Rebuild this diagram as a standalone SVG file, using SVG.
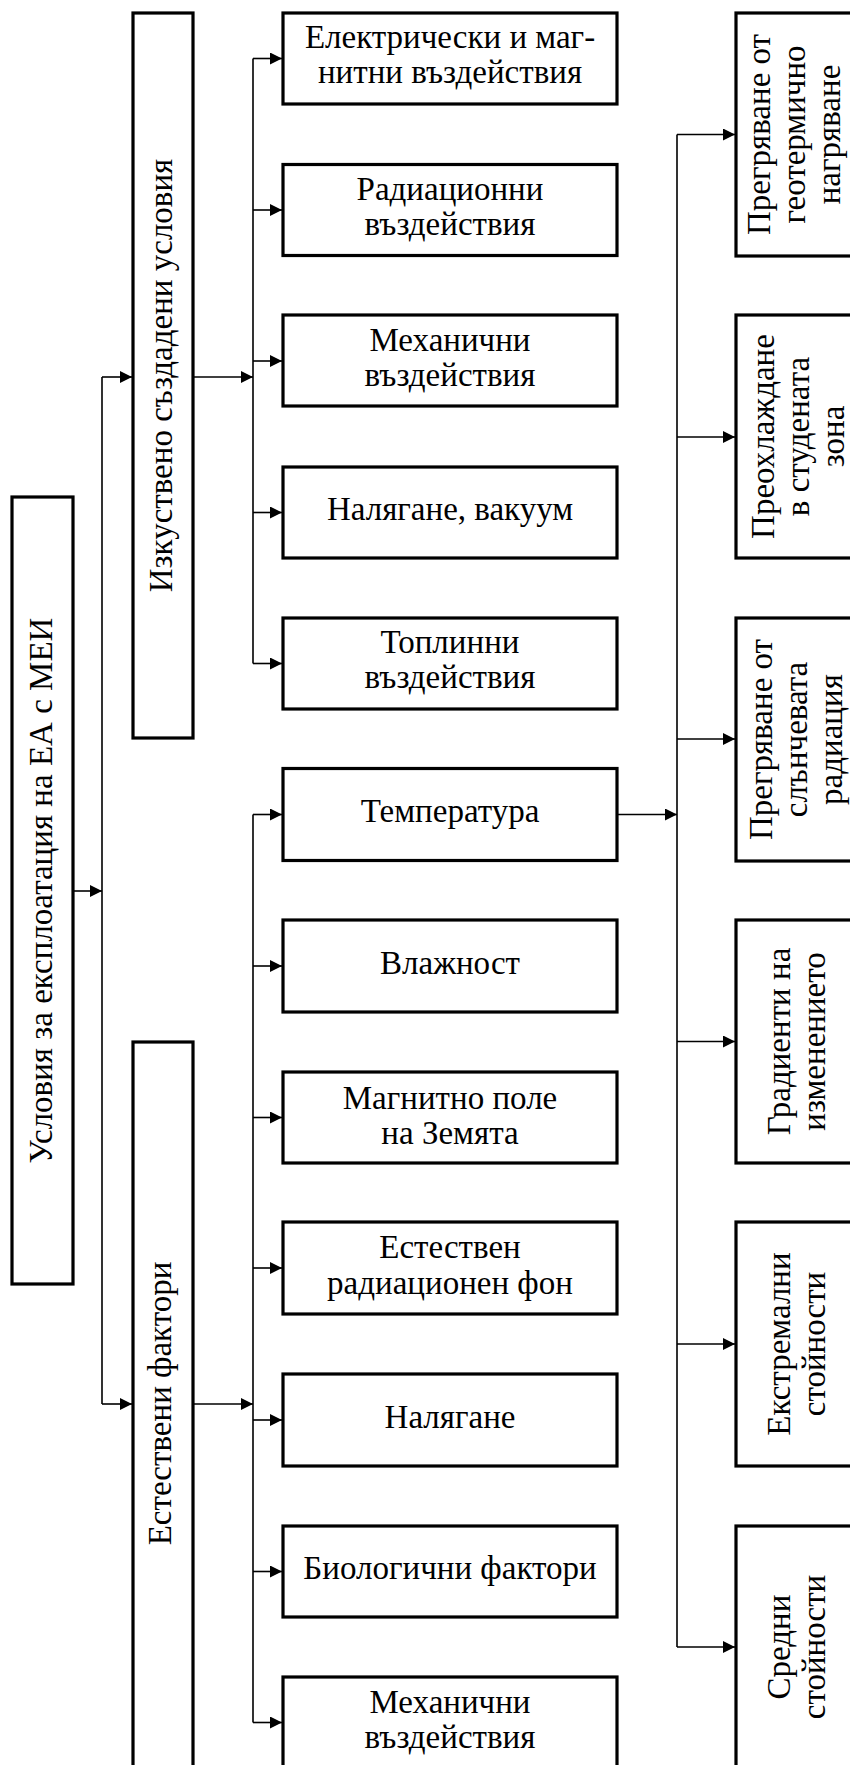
<svg xmlns="http://www.w3.org/2000/svg" width="850" height="1765" viewBox="0 0 850 1765" font-family="Liberation Serif, DejaVu Serif, serif">
<style>
.b{fill:#fff;stroke:#000;stroke-width:3.2}
.t{font-size:33px;fill:#000;text-anchor:middle}
.c{fill:none;stroke:#000;stroke-width:1.6}
</style>
<defs>
<marker id="ar" markerUnits="userSpaceOnUse" markerWidth="13" markerHeight="12" refX="12" refY="6" orient="auto">
<path d="M0,0 L12,6 L0,12 z" fill="#000"/>
</marker>
</defs>
<rect width="850" height="1765" fill="#fff"/>
<g id="connectors">
<path class="c" d="M102,377 V1404 M253,58.5 V663.5 M253,814.5 V1722.5 M677,134.5 V1647"/>
<path class="c" marker-end="url(#ar)" d="M102,377 H132"/>
<path class="c" marker-end="url(#ar)" d="M102,1404 H132"/>
<path class="c" marker-end="url(#ar)" d="M74,891 H102"/>
<path class="c" marker-end="url(#ar)" d="M194,377 H253"/>
<path class="c" marker-end="url(#ar)" d="M194,1404 H253"/>
<path class="c" marker-end="url(#ar)" d="M618,814.5 H677"/>
<path class="c" marker-end="url(#ar)" d="M253,58.5 H282"/>
<path class="c" marker-end="url(#ar)" d="M253,210 H282"/>
<path class="c" marker-end="url(#ar)" d="M253,361 H282"/>
<path class="c" marker-end="url(#ar)" d="M253,512.5 H282"/>
<path class="c" marker-end="url(#ar)" d="M253,663.5 H282"/>
<path class="c" marker-end="url(#ar)" d="M253,814.5 H282"/>
<path class="c" marker-end="url(#ar)" d="M253,966 H282"/>
<path class="c" marker-end="url(#ar)" d="M253,1117.5 H282"/>
<path class="c" marker-end="url(#ar)" d="M253,1268 H282"/>
<path class="c" marker-end="url(#ar)" d="M253,1420 H282"/>
<path class="c" marker-end="url(#ar)" d="M253,1571.5 H282"/>
<path class="c" marker-end="url(#ar)" d="M253,1722.5 H282"/>
<path class="c" marker-end="url(#ar)" d="M677,134.5 H735"/>
<path class="c" marker-end="url(#ar)" d="M677,437 H735"/>
<path class="c" marker-end="url(#ar)" d="M677,739 H735"/>
<path class="c" marker-end="url(#ar)" d="M677,1041.5 H735"/>
<path class="c" marker-end="url(#ar)" d="M677,1344 H735"/>
<path class="c" marker-end="url(#ar)" d="M677,1647 H735"/>
</g>
<g id="main">
<rect class="b" x="12" y="497" width="61" height="787"/>
<text class="t" transform="translate(42.5,890.5) rotate(-90)" y="9.5">Условия за експлоатация на ЕА с МЕИ</text>
</g>
<g id="artificial">
<rect class="b" x="133" y="13" width="60" height="725"/>
<text class="t" transform="translate(163,375.5) rotate(-90)" y="9">Изкуствено създадени условия</text>
</g>
<g id="natural">
<rect class="b" x="133" y="1042" width="60" height="730"/>
<text class="t" transform="translate(163,1403.5) rotate(-90)" y="8">Естествени фактори</text>
</g>
<g id="a1">
<rect class="b" x="283" y="13" width="334" height="91"/>
<text class="t" x="450" y="48">Електрически и маг-</text>
<text class="t" x="450" y="83">нитни въздействия</text>
</g>
<g id="a2">
<rect class="b" x="283" y="164.5" width="334" height="91"/>
<text class="t" x="450" y="200">Радиационни</text>
<text class="t" x="450" y="235">въздействия</text>
</g>
<g id="a3">
<rect class="b" x="283" y="315" width="334" height="91"/>
<text class="t" x="450" y="351">Механични</text>
<text class="t" x="450" y="386">въздействия</text>
</g>
<g id="a4">
<rect class="b" x="283" y="467" width="334" height="91"/>
<text class="t" x="450" y="520">Налягане, вакуум</text>
</g>
<g id="a5">
<rect class="b" x="283" y="618" width="334" height="91"/>
<text class="t" x="450" y="653">Топлинни</text>
<text class="t" x="450" y="688">въздействия</text>
</g>
<g id="n1">
<rect class="b" x="283" y="768.5" width="334" height="92"/>
<text class="t" x="450" y="822">Температура</text>
</g>
<g id="n2">
<rect class="b" x="283" y="920" width="334" height="92"/>
<text class="t" x="450" y="973.5">Влажност</text>
</g>
<g id="n3">
<rect class="b" x="283" y="1072" width="334" height="91"/>
<text class="t" x="450" y="1109">Магнитно поле</text>
<text class="t" x="450" y="1144">на Земята</text>
</g>
<g id="n4">
<rect class="b" x="283" y="1222" width="334" height="92"/>
<text class="t" x="450" y="1258">Естествен</text>
<text class="t" x="450" y="1294">радиационен фон</text>
</g>
<g id="n5">
<rect class="b" x="283" y="1374" width="334" height="92"/>
<text class="t" x="450" y="1427.5">Налягане</text>
</g>
<g id="n6">
<rect class="b" x="283" y="1526" width="334" height="91"/>
<text class="t" x="450" y="1579">Биологични фактори</text>
</g>
<g id="n7">
<rect class="b" x="283" y="1677" width="334" height="95"/>
<text class="t" x="450" y="1713">Механични</text>
<text class="t" x="450" y="1748">въздействия</text>
</g>
<g id="r1">
<rect class="b" x="736" y="13" width="126" height="243"/>
<text class="t" transform="translate(798,134.5) rotate(-90)"><tspan x="0" y="-28">Прегряване от</tspan><tspan x="0" y="7">геотермично</tspan><tspan x="0" y="42">нагряване</tspan></text>
</g>
<g id="r2">
<rect class="b" x="736" y="315" width="126" height="243"/>
<text class="t" transform="translate(798,436.5) rotate(-90)"><tspan x="0" y="-24">Преохлаждане</tspan><tspan x="0" y="11">в студената</tspan><tspan x="0" y="46">зона</tspan></text>
</g>
<g id="r3">
<rect class="b" x="736" y="618" width="126" height="243"/>
<text class="t" transform="translate(798,739.5) rotate(-90)"><tspan x="0" y="-26">Прегряване от</tspan><tspan x="0" y="9">слънчевата</tspan><tspan x="0" y="44">радиация</tspan></text>
</g>
<g id="r4">
<rect class="b" x="736" y="920" width="126" height="243"/>
<text class="t" transform="translate(798,1041.5) rotate(-90)"><tspan x="0" y="-8">Градиенти на</tspan><tspan x="0" y="27">изменението</tspan></text>
</g>
<g id="r5">
<rect class="b" x="736" y="1222" width="126" height="244"/>
<text class="t" transform="translate(798,1344) rotate(-90)"><tspan x="0" y="-8">Екстремални</tspan><tspan x="0" y="27">стойности</tspan></text>
</g>
<g id="r6">
<rect class="b" x="736" y="1526" width="126" height="250"/>
<text class="t" transform="translate(798,1647) rotate(-90)"><tspan x="0" y="-8">Средни</tspan><tspan x="0" y="27">стойности</tspan></text>
</g>
</svg>
